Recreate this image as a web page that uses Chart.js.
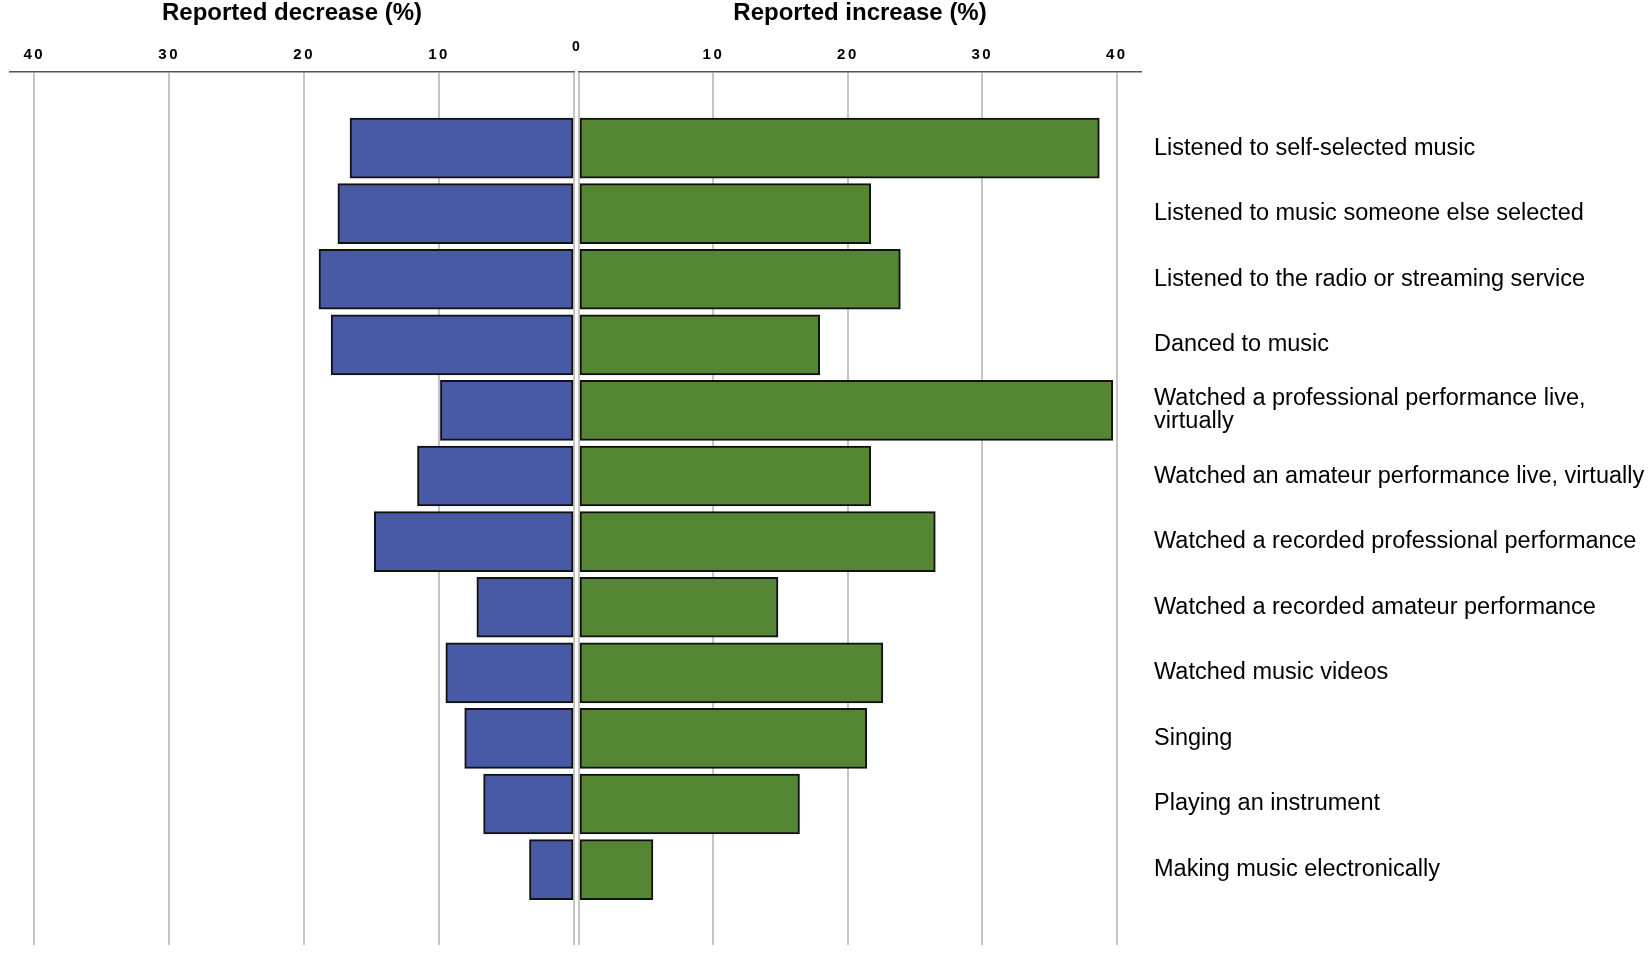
<!DOCTYPE html>
<html>
<head>
<meta charset="utf-8">
<script src="https://cdn.jsdelivr.net/npm/chart.js@4.4.1/dist/chart.umd.min.js"></script>
<style>
  body { margin: 0; background: #fff; }
  #wrap { position: relative; width: 1650px; height: 953px; }
  canvas { position: absolute; top: 0; }
  #gauche { left: 0; }
  #droite { left: 577px; }
</style>
</head>
<body>
<div id="wrap">
  <canvas id="gauche" width="590" height="953"></canvas>
  <canvas id="droite" width="1073" height="953"></canvas>
</div>
<script>
// === DONNEES ===
const activites = [
  "Listened to self-selected music",
  "Listened to music someone else selected",
  "Listened to the radio or streaming service",
  "Danced to music",
  ["Watched a professional performance live,", "virtually"],
  "Watched an amateur performance live, virtually",
  "Watched a recorded professional performance",
  "Watched a recorded amateur performance",
  "Watched music videos",
  "Singing",
  "Playing an instrument",
  "Making music electronically"
];
const baisse = [16.6, 17.5, 18.9, 18.0, 9.9, 11.6, 14.8, 7.2, 9.5, 8.1, 6.7, 3.3];
const hausse = [38.7, 21.7, 23.9, 17.9, 39.7, 21.7, 26.5, 14.8, 22.6, 21.4, 16.4, 5.5];
const graduations = [0, 10, 20, 30, 40];

const POLICE = '"Liberation Sans", Arial, Helvetica, sans-serif';
Chart.defaults.font.family = POLICE;
Chart.defaults.color = "#000";

// espacement des chiffres de l'axe (dessines apres les barres)
const espacement = {
  id: "espacement",
  beforeDraw: c => { c.ctx.letterSpacing = "0px"; },
  afterDatasetsDraw: c => { c.ctx.letterSpacing = "2.5px"; },
  afterDraw: c => { c.ctx.letterSpacing = "0px"; }
};

// le "0" commun aux deux axes
const zero = {
  id: "zero",
  afterDraw: c => {
    const ctx = c.ctx;
    const x = c.scales.x.getPixelForValue(0);
    ctx.save();
    ctx.font = "bold 14px " + POLICE;
    ctx.fillStyle = "#000";
    ctx.textAlign = "center";
    ctx.textBaseline = "middle";
    ctx.fillText("0", x + 2, 47);
    ctx.restore();
  }
};

function sansMarges(s) {
  s.paddingLeft = 0; s.paddingRight = 0; s.paddingTop = 0; s.paddingBottom = 0;
}

function axeX(titre, inverse) {
  return {
    type: "linear",
    position: "top",
    reverse: inverse,
    min: 0,
    max: 41.8,
    offset: false,
    afterBuildTicks: s => { s.ticks = graduations.map(v => ({ value: v })); },
    afterFit: sansMarges,
    grid: { color: "#c6c6c6", lineWidth: 2, drawTicks: false },
    border: { color: "#555", width: 1.5 },
    ticks: {
      z: 1,
      padding: 8,
      font: { size: 15, weight: "bold" },
      callback: v => v === 0 ? "" : v
    },
    title: {
      display: true,
      text: titre,
      font: { size: 24, weight: "bold", lineHeight: 1 },
      padding: { top: 1, bottom: 13 }
    }
  };
}

function axeY(afficher) {
  const axe = {
    type: "linear",
    reverse: true,
    offset: false,
    min: -1.16,
    max: 12.15,
    display: afficher,
    afterBuildTicks: s => { s.ticks = activites.map((_, i) => ({ value: i })); }
  };
  if (afficher) {
    axe.position = "right";
    axe.grid = { display: false, drawTicks: false };
    axe.border = { display: false };
    axe.ticks = {
      autoSkip: false,
      padding: 13,
      font: { size: 23.5, lineHeight: "23px" },
      callback: (v, i) => activites[i]
    };
    axe.afterFit = s => { sansMarges(s); s.width = 509; };
  }
  return axe;
}

function serie(valeurs, couleur) {
  return {
    data: valeurs.map((v, i) => ({ x: v, y: i })),
    backgroundColor: couleur,
    borderColor: "#111",
    borderWidth: 2,
    borderSkipped: false,
    barThickness: 60
  };
}

const communs = {
  indexAxis: "y",
  responsive: false,
  animation: false,
  plugins: { legend: { display: false }, tooltip: { enabled: false } }
};

// === PARTIE GAUCHE : baisse ===
new Chart(document.getElementById("gauche"), {
  type: "bar",
  data: { datasets: [serie(baisse, "#4859a6")] },
  options: {
    ...communs,
    layout: { padding: { left: 10, right: 16, top: 0, bottom: 8 } },
    scales: { x: axeX("Reported decrease (%)", true), y: axeY(false) }
  },
  plugins: [espacement, zero]
});

// === PARTIE DROITE : hausse ===
new Chart(document.getElementById("droite"), {
  type: "bar",
  data: { datasets: [serie(hausse, "#548634")] },
  options: {
    ...communs,
    layout: { padding: { left: 2, right: 0, top: 0, bottom: 8 } },
    scales: { x: axeX("Reported increase (%)", false), y: axeY(true) }
  },
  plugins: [espacement]
});
</script>
</body>
</html>
